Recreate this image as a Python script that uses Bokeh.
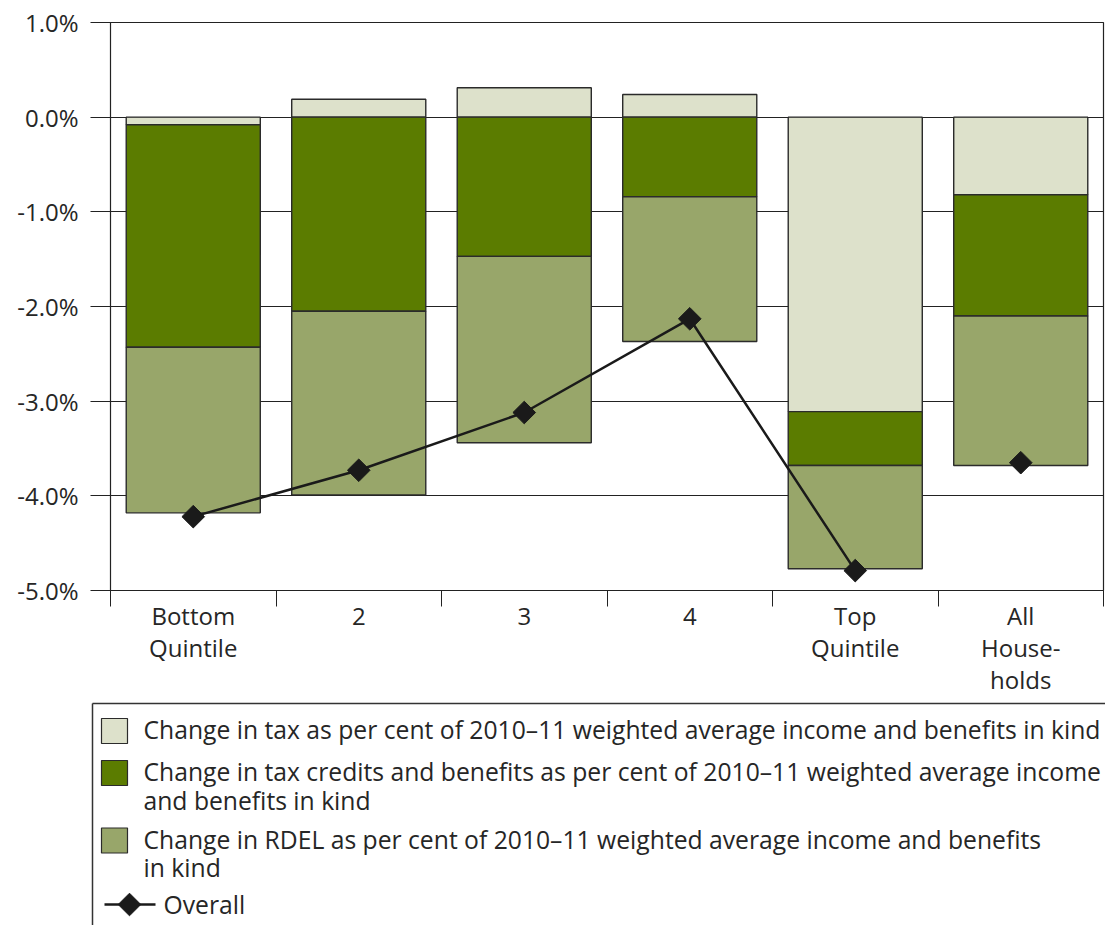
from bokeh.plotting import figure
from bokeh.models import Range1d, FixedTicker, PrintfTickFormatter
from bokeh.core.properties import value
from bokeh.embed import file_html
from bokeh.resources import INLINE
import math

categories = ["Bottom\nQuintile", "2", "3", "4", "Top\nQuintile", "All\nHouse-\nholds"]
tax = [-0.08, 0.19, 0.31, 0.24, -3.11, -0.82]
credits = [-2.35, -2.05, -1.47, -0.84, -0.57, -1.28]
rdel = [-1.75, -1.94, -1.97, -1.53, -1.09, -1.58]
overall = [-4.22, -3.73, -3.12, -2.13, -4.79, -3.65]
y_ticks = [-5, -4, -3, -2, -1, 0, 1]

series_labels = [
    "Change in tax as per cent of 2010\u201311 weighted average income and benefits in kind",
    "Change in tax credits and benefits as per cent of 2010\u201311 weighted average income\nand benefits in kind",
    "Change in RDEL as per cent of 2010\u201311 weighted average income and benefits\nin kind",
]
line_label = "Overall"
colors = ["#DDE1CB", "#5B7C00", "#98A66A"]

FONT_NAME = "Open Sans"
FONT = value(FONT_NAME)
TXT = "#262626"

n = len(categories)
xs = [i + 0.5 for i in range(n)]

W = 1105
p = figure(width=W, height=700, x_range=Range1d(0, n), y_range=Range1d(-5, 1),
           output_backend="svg", toolbar_location=None,
           min_border_left=110, min_border_right=2, min_border_top=22, min_border_bottom=110)
p.background_fill_color = "white"
p.border_fill_color = "white"
p.outline_line_color = "#222222"
p.outline_line_width = 1.2

# stacked bars (positive and negative stacks separately)
pos = [0.0] * n
neg = [0.0] * n
for vals, col in zip([tax, credits, rdel], colors):
    bottoms, tops = [], []
    for i, v in enumerate(vals):
        if v >= 0:
            bottoms.append(pos[i]); tops.append(pos[i] + v); pos[i] += v
        else:
            bottoms.append(neg[i] + v); tops.append(neg[i]); neg[i] += v
    p.vbar(x=xs, bottom=bottoms, top=tops, width=0.81, fill_color=col,
           line_color="#2b2b2b", line_width=1.4)

# overall line (quintiles connected) and markers
p.line(xs[:5], overall[:5], line_color="#1a1a1a", line_width=2.5)
p.scatter(xs, overall, marker="square", size=16, angle=math.pi / 4,
          fill_color="#1a1a1a", line_color="#1a1a1a")

# y axis
p.yaxis.ticker = FixedTicker(ticks=y_ticks)
p.yaxis.formatter = PrintfTickFormatter(format="%.1f%%")
p.yaxis.major_tick_out = 20
p.yaxis.major_tick_in = 0
p.yaxis.minor_tick_out = 0
p.yaxis.minor_tick_in = 0
p.yaxis.axis_line_color = "#222222"
p.yaxis.major_tick_line_color = "#222222"
p.yaxis.major_label_text_font = FONT_NAME
p.yaxis.major_label_text_font_size = "24px"
p.yaxis.major_label_text_color = TXT
p.yaxis.major_label_standoff = 12

# x axis: labels at centers, boundary ticks as minor ticks
p.xaxis.ticker = FixedTicker(ticks=xs, minor_ticks=list(range(n + 1)))
p.xaxis.major_label_overrides = {x: c for x, c in zip(xs, categories)}
p.xaxis.major_tick_out = 0
p.xaxis.major_tick_in = 0
p.xaxis.minor_tick_out = 16
p.xaxis.minor_tick_in = 0
p.xaxis.minor_tick_line_color = "#222222"
p.xaxis.axis_line_color = "#222222"
p.xaxis.major_label_text_font = FONT_NAME
p.xaxis.major_label_text_font_size = "24px"
p.xaxis.major_label_text_color = TXT
p.xaxis.major_label_text_line_height = 0.97
p.xaxis.major_label_standoff = -8

p.xgrid.grid_line_color = None
p.ygrid.ticker = FixedTicker(ticks=y_ticks)
p.ygrid.grid_line_color = "#222222"
p.ygrid.grid_line_width = 1

# legend panel (separate root, pixel coordinates)
LW, LH = W, 225
leg = figure(width=LW, height=LH, x_range=Range1d(0, LW), y_range=Range1d(LH, 0),
             output_backend="svg", toolbar_location=None, min_border=0,
             x_axis_location=None, y_axis_location=None)
leg.grid.grid_line_color = None
leg.outline_line_color = None
leg.background_fill_color = "white"
leg.border_fill_color = "white"

leg.segment(x0=[92, 92], y0=[3, 3], x1=[LW, 92], y1=[3, LH], line_color="#333333", line_width=1.5)

patch_y = [30.5, 72.5, 140]
leg.rect(x=[114] * 3, y=patch_y, width=26, height=25, fill_color=colors,
         line_color="#2b2b2b", line_width=1.2)
leg.text(x=[143] * 3, y=[py - 18 for py in patch_y], text=series_labels,
         text_font=FONT, text_font_size="24.7px", text_color=TXT,
         text_baseline="top", text_align="left", text_line_height=0.87)

leg.line([104, 155], [204, 204], line_color="#1a1a1a", line_width=2.5)
leg.scatter([129], [204], marker="square", size=16, angle=math.pi / 4,
            fill_color="#1a1a1a", line_color="#1a1a1a")
leg.text(x=[163], y=[204], text=[line_label], text_font=FONT, text_font_size="24.7px",
         text_color=TXT, text_baseline="middle", text_align="left")

open("out.html", "w").write(file_html([p, leg], INLINE))
